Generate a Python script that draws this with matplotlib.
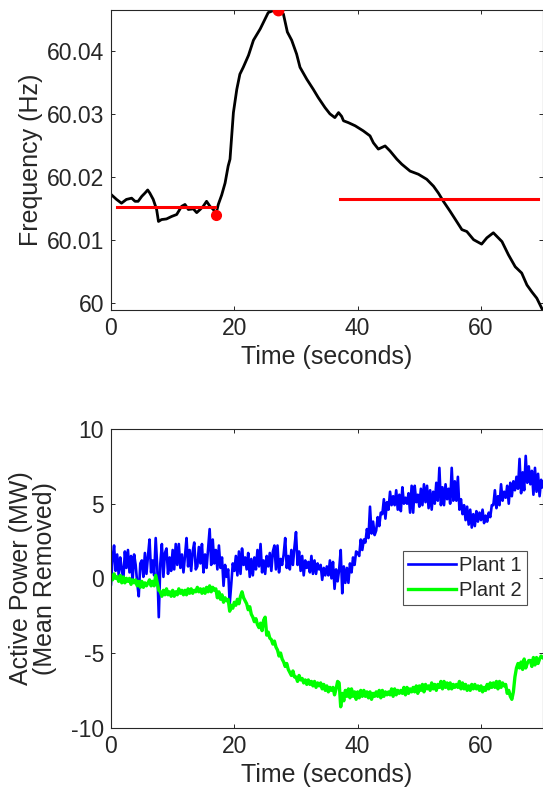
import numpy as np
import matplotlib
matplotlib.use("Agg")
import matplotlib.pyplot as plt
from matplotlib.ticker import FuncFormatter

# ---------------- data ----------------
freq_t = [0.0, 0.9, 1.7, 2.5, 3.35, 3.9, 4.4, 5.0, 5.5, 5.95, 6.3, 6.85, 7.4, 7.7, 8.2, 9.0,
          9.85, 10.65, 11.45, 12.0, 12.55, 13.35, 13.9, 14.45, 14.95, 15.5, 16.05, 16.6, 17.0,
          17.4, 17.95, 18.5, 19.0, 19.3, 19.85, 20.4, 20.9, 21.45, 22.3, 23.1, 24.2, 25.0, 25.5,
          26.3, 27.1, 27.95, 28.6, 29.3, 30.1, 30.65, 31.75, 32.8, 33.6, 34.7, 35.5, 36.3, 36.9,
          37.4, 37.7, 38.5, 39.6, 40.9, 42.0, 42.55, 43.35, 44.45, 45.25, 46.35, 47.15, 48.5,
          49.85, 51.2, 52.3, 53.1, 53.9, 55.0, 56.05, 56.9, 57.7, 58.8, 60.1, 60.95, 62.0, 63.4,
          64.45, 65.55, 66.6, 67.45, 68.25, 69.05, 69.85, 70.0]
freq_v = [60.0172, 60.0164, 60.0158, 60.0164, 60.0166, 60.0161, 60.0161, 60.0169, 60.0174,
          60.0179, 60.0174, 60.0164, 60.0148, 60.0129, 60.0132, 60.0133, 60.0137, 60.0140,
          60.0153, 60.0156, 60.0148, 60.0149, 60.0143, 60.0148, 60.0153, 60.0161, 60.0153,
          60.0148, 60.0140, 60.0156, 60.0171, 60.0190, 60.0217, 60.0228, 60.0302, 60.0339,
          60.0363, 60.0374, 60.0393, 60.0417, 60.0435, 60.0451, 60.0461, 60.0464, 60.0465,
          60.0459, 60.0430, 60.0417, 60.0395, 60.0374, 60.0355, 60.0339, 60.0326, 60.0310,
          60.0300, 60.0294, 60.0302, 60.0296, 60.0289, 60.0286, 60.0281, 60.0273, 60.0265,
          60.0254, 60.0244, 60.0249, 60.0241, 60.0228, 60.0220, 60.0209, 60.0204, 60.0196,
          60.0185, 60.0174, 60.0161, 60.0145, 60.0129, 60.0116, 60.0113, 60.0100, 60.0093,
          60.0103, 60.0111, 60.0097, 60.0076, 60.0057, 60.0047, 60.0028, 60.0017, 60.0007,
          59.9991, 59.9988]

# reference levels (start, end, value)
pre_level_t = [0.9, 16.9]
pre_level_v = 60.0152
post_level_t = [37.15, 69.3]
post_level_v = 60.0165
# marked points
nadir_t, nadir_v = 17.0, 60.0140
peak_t, peak_v = 27.1, 60.0465

power_dt = 0.25
plant1 = [
    -0.4, 1.3, 2.2, 0.5,   1.6, 0.2, 1.4, 0.6,   -0.1, 1.8, 0.7, 1.9,   0.4, 1.5, -0.2, 1.6,
    0.9, -0.3, -1.2, 1.0,  1.2, 0.1, 1.7, 0.3,   1.5, 2.6, 0.4, 1.2,    0.2, 2.7, 0.8, -2.6,
    1.0, 2.3, 0.1, 1.7,    2.0, 0.3, 1.4, 0.5,   1.9, 0.6, 2.3, 0.9,    2.3, 0.7, 1.6, 0.4,
    1.5, 2.7, 0.8, 1.9,    0.5, 1.8, 2.4, 0.6,   0.8, 2.1, 1.0, 2.3,    0.4, 1.6, 0.7, 2.0,
    3.3, 0.9, 2.6, 1.0,    1.9, 0.6, 2.2, 0.7,   1.4, -0.5, 0.9, 0.1,   0.6, -1.7, -0.4, 1.0,
    0.5, 1.5, 0.2, 1.8,    0.3, 2.0, 0.9, 1.4,   0.6, 1.7, 0.1, 1.3,    0.2, 1.4, 0.6, 1.9,
    0.8, 2.3, 0.4, 1.2,    0.3, 1.5, 0.8, 1.7,   0.5, 1.8, 2.2, 0.6,    2.2, 0.4, 1.3, 0.9,
    1.6, 2.7, 0.7, 1.5,    0.6, 1.9, 0.9, 2.1,   3.1, 0.9, 1.8, 0.5,    1.5, 0.2, 1.2, 0.7,
    1.1, 0.4, 1.5, 0.3,    1.2, 0.3, 1.0, 0.6,   0.9, -0.1, 0.7, 0.2,   0.8, 0.2, 1.2, 0.0,
    1.1, -0.7, 0.6, -0.2,  0.6, 1.9, -1.0, 0.8,  -0.3, 0.7, -0.3, 1.0,  0.4, 1.4, 0.9, 1.8,
    1.7, 1.5, 2.6, 1.9,    2.6, 2.4, 3.3, 2.7,   4.8, 3.0, 3.8, 2.9,    3.2, 4.1, 3.5, 4.4,
    4.3, 5.3, 4.0, 5.1,    4.6, 5.8, 4.9, 5.5,   4.9, 5.9, 4.6, 5.6,    4.5, 6.1, 5.0, 5.4,
    5.0, 5.7, 4.4, 6.2,    4.4, 6.2, 5.1, 5.6,   4.8, 6.0, 4.9, 6.3,    5.1, 6.2, 4.7, 5.9,
    4.6, 5.8, 5.0, 6.4,    5.2, 7.4, 4.9, 6.1,   4.9, 6.3, 5.3, 6.0,    5.0, 7.4, 5.2, 6.5,
    5.2, 6.8, 4.6, 5.3,    4.3, 4.9, 3.9, 4.8,   3.6, 4.6, 3.4, 4.3,    3.5, 4.5, 3.8, 4.4,
    3.9, 4.6, 3.7, 4.2,    3.8, 4.4, 4.1, 4.9,   4.9, 5.9, 4.7, 5.5,    4.9, 6.3, 5.2, 5.8,
    5.4, 6.2, 5.0, 6.4,    5.5, 6.5, 5.9, 6.8,   6.0, 8.0, 5.7, 7.1,    5.9, 8.2, 6.4, 7.5,
    6.3, 7.2, 5.6, 7.4,    5.8, 7.0, 5.5, 6.6,   6.1]
plant2 = [
    0.2, -0.1, 0.3, 0.0,     0.1, -0.2, 0.2, -0.3,    0.1, -0.3, 0.0, -0.2,    0.0, -0.4, -0.1, -0.3,
    -0.1, -0.5, -0.2, -0.6,  -0.2, -0.6, -0.3, -0.5,  -0.3, -0.1, -0.5, -0.2,  -0.5, 0.2, -0.3, -0.8,
    -0.9, -1.2, -0.8, -1.1,  -0.7, -1.1, -0.9, -1.2,  -0.8, -1.2, -0.9, -1.1,  -0.7, -1.0, -0.8, -1.1,
    -0.8, -1.1, -0.7, -1.0,  -0.7, -1.0, -0.8, -0.9,  -0.6, -0.9, -0.7, -1.0,  -0.7, -1.0, -0.6, -0.9,
    -0.5, -0.9, -0.6, -0.8,  -0.7, -1.3, -0.9, -1.4,  -1.1, -1.6, -1.3, -1.5,  -1.4, -2.2, -1.8, -2.0,
    -1.6, -1.8, -1.4, -1.7,  -1.2, -0.9, -1.3, -1.5,  -1.7, -2.1, -1.9, -2.4,  -2.6, -2.9, -2.7, -3.1,
    -3.3, -3.0, -3.5, -2.8,  -2.6, -3.8, -3.6, -4.0,  -4.1, -4.4, -4.2, -4.6,  -4.8, -5.2, -5.0, -5.4,
    -5.6, -5.9, -5.7, -6.1,  -6.3, -6.5, -6.2, -6.6,  -6.6, -6.9, -6.5, -6.8,  -6.7, -7.0, -6.8, -7.1,
    -6.8, -7.1, -6.9, -7.2,  -6.9, -7.3, -7.0, -7.2,  -7.0, -7.4, -7.1, -7.5,  -7.2, -7.6, -7.3, -7.5,
    -7.3, -7.8, -7.4, -6.9,  -7.0, -8.6, -7.7, -8.2,  -7.5, -7.9, -7.4, -8.0,  -7.4, -7.9, -7.6, -8.1,
    -7.6, -8.0, -7.5, -7.9,  -7.5, -7.9, -7.6, -8.0,  -7.6, -8.1, -7.7, -7.9,  -7.6, -7.9, -7.5, -8.0,
    -7.5, -7.9, -7.6, -7.8,  -7.6, -7.8, -7.4, -7.9,  -7.4, -7.8, -7.5, -7.7,  -7.5, -7.7, -7.3, -7.8,
    -7.3, -7.7, -7.4, -7.6,  -7.3, -7.6, -7.2, -7.7,  -7.2, -7.5, -7.1, -7.6,  -7.1, -7.4, -7.2, -7.5,
    -7.0, -7.4, -7.1, -7.5,  -7.1, -7.3, -6.9, -7.4,  -6.9, -7.3, -7.0, -7.4,  -7.0, -7.4, -7.1, -7.3,
    -7.1, -7.3, -6.9, -7.4,  -7.0, -7.4, -7.1, -7.5,  -7.2, -7.5, -7.1, -7.4,  -7.1, -7.4, -7.2, -7.5,
    -7.2, -7.6, -7.3, -7.5,  -7.1, -7.4, -7.0, -7.3,  -7.0, -7.3, -6.9, -7.4,  -6.9, -7.3, -7.0, -7.2,
    -7.1, -7.7, -7.5, -7.9,  -8.1, -7.6, -6.6, -6.0,  -5.7, -6.0, -5.6, -6.1,  -5.4, -6.0, -5.7, -5.5,
    -5.5, -5.9, -5.3, -5.8,  -5.3, -5.7, -5.4, -5.2,  -5.3]

series_labels = ["Plant 1", "Plant 2"]
x_ticks = [0, 20, 40, 60]
freq_ticks = [60.0, 60.01, 60.02, 60.03, 60.04]
power_ticks = [-10, -5, 0, 5, 10]

# ---------------- style ----------------
plt.rcParams["font.family"] = ["Liberation Sans", "DejaVu Sans"]
plt.rcParams["axes.unicode_minus"] = False
axcol = "#262626"

fig = plt.figure(figsize=(5.43, 8.01), dpi=100)
ax1 = fig.add_axes([0.2044, 0.6130, 0.7950, 0.3745])
ax2 = fig.add_axes([0.2044, 0.0915, 0.7950, 0.3729])


def style(ax):
    for s in ax.spines.values():
        s.set_color(axcol)
        s.set_linewidth(0.8)
    ax.tick_params(direction="in", length=2.8, width=0.7, colors=axcol,
                   labelsize=16.5, top=True, right=True, pad=5)
    ax.set_xticks(x_ticks)
    ax.set_xlim(0, 70)


# top
ax1.plot(freq_t, freq_v, color="k", lw=2.0, zorder=2)
ax1.plot(pre_level_t, [pre_level_v] * 2, color="r", lw=2.2, zorder=3)
ax1.plot(post_level_t, [post_level_v] * 2, color="r", lw=2.2, zorder=3)
ax1.plot([nadir_t], [nadir_v], "o", color="r", ms=7, zorder=4, clip_on=False)
ax1.plot([peak_t], [peak_v], "o", color="r", ms=7.5, zorder=4, clip_on=True)
style(ax1)
ax1.set_ylim(59.99883, 60.0465)
ax1.set_yticks(freq_ticks)
ax1.yaxis.set_major_formatter(FuncFormatter(lambda v, p: f"{v:.2f}".rstrip("0").rstrip(".")))
ax1.set_xlabel("Time (seconds)", fontsize=18, color=axcol, labelpad=4)
ax1.set_ylabel("Frequency (Hz)", fontsize=18, color=axcol, labelpad=3)

# bottom
t_pow = np.arange(len(plant1)) * power_dt
t_pow2 = np.arange(len(plant2)) * power_dt
ax2.plot(t_pow, plant1, color=(0, 0, 1), lw=1.9, label=series_labels[0])
ax2.plot(t_pow2, plant2, color=(0, 1, 0), lw=2.4, label=series_labels[1])
style(ax2)
ax2.set_ylim(-10, 10)
ax2.set_yticks(power_ticks)
ax2.set_xlabel("Time (seconds)", fontsize=18, color=axcol, labelpad=4)
ax2.set_ylabel("Active Power (MW)\n(Mean Removed)", fontsize=18, color=axcol,
               labelpad=10, linespacing=1.0)
leg = ax2.legend(loc="upper left", bbox_to_anchor=(0.676, 0.593), borderaxespad=0,
                 fontsize=14.5, handlelength=2.4, handletextpad=0.15, borderpad=0.25,
                 labelspacing=0.3, frameon=True, fancybox=False)
leg.get_frame().set_edgecolor(axcol)
leg.get_frame().set_linewidth(0.8)
for txt in leg.get_texts():
    txt.set_color(axcol)

fig.savefig("out.png", dpi=100)
